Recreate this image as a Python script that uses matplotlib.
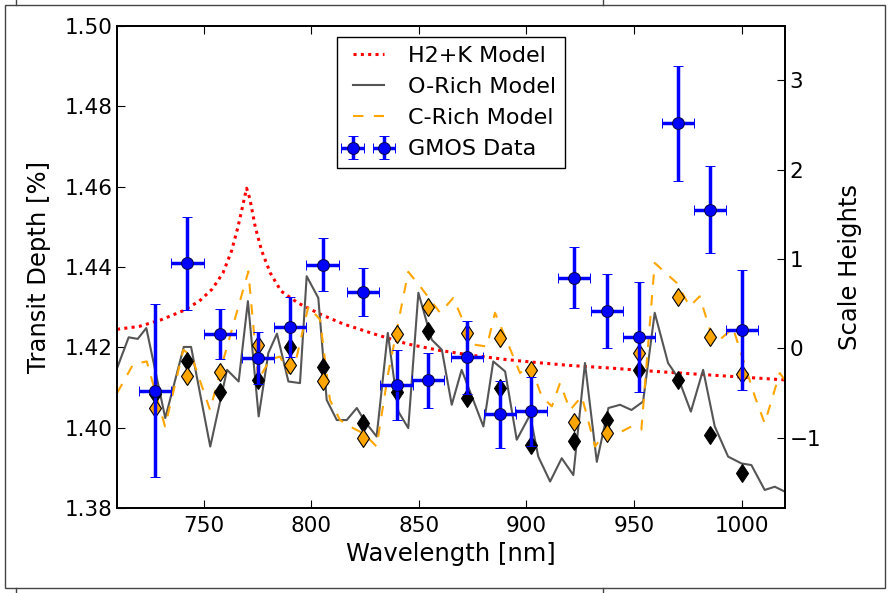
import matplotlib
matplotlib.use("Agg")
import matplotlib.pyplot as plt
from matplotlib.patches import Rectangle
from matplotlib.lines import Line2D

# binned GMOS transit depths
wl = [727.5, 742.5, 757.5, 775.3, 790.2, 805.3, 824.2, 839.7, 854.4, 872.3,
      887.7, 902.2, 922.1, 937.3, 952.3, 970.3, 985.3, 1000.0]
depth = [1.4092, 1.4409, 1.4233, 1.4173, 1.4250, 1.4406, 1.4337, 1.4107, 1.4118, 1.4175,
         1.4033, 1.4041, 1.4373, 1.4290, 1.4226, 1.4758, 1.4543, 1.4244]
depth_err = [0.0215, 0.0115, 0.0063, 0.0064, 0.0075, 0.0065, 0.0060, 0.0087, 0.0069, 0.0090,
             0.0083, 0.0086, 0.0076, 0.0092, 0.0137, 0.0143, 0.0109, 0.0149]
wl_err = [7.5] * 18

# binned models
orich_bin = [1.4085, 1.4167, 1.4090, 1.4119, 1.4201, 1.4151, 1.4011, 1.4090, 1.4240, 1.4074,
             1.4099, 1.3957, 1.3968, 1.4018, 1.4144, 1.4119, 1.3982, 1.3888]
crich_bin = [1.4049, 1.4129, 1.4138, 1.4207, 1.4155, 1.4115, 1.3974, 1.4233, 1.4300, 1.4236,
             1.4223, 1.4144, 1.4013, 1.3986, 1.4187, 1.4325, 1.4226, 1.4133]

# H2+K model
h2k_wl = [709.8, 720, 730, 740, 748, 754, 759, 763, 766, 768.5, 770, 771.5, 774, 777, 781,
          786, 794, 804, 815, 830, 845, 860, 875, 890, 905, 920, 940, 960, 980, 1000, 1020]
h2k = [1.4245, 1.4252, 1.4268, 1.4290, 1.4315, 1.4345, 1.4385, 1.4440, 1.4500, 1.4560,
       1.4596, 1.4570, 1.4500, 1.4440, 1.4385, 1.4340, 1.4310, 1.4283, 1.4258, 1.4232,
       1.4208, 1.4192, 1.4180, 1.4170, 1.4162, 1.4155, 1.4148, 1.4140, 1.4133, 1.4126, 1.4119]

# O-rich model
orich_wl = [709.8, 715.2, 719.4, 723.4, 732.2, 740.8, 744.2, 753.1, 760.9, 766.3, 770.6, 775.6,
            780.1, 784.1, 789.4, 794.8, 797.9, 803.3, 807.2, 811.9, 816.5, 821.2, 825.0, 830.4,
            835.6, 840.5, 845.1, 849.8, 856.0, 860.7, 865.3, 869.9, 880.0, 884.6, 890.1, 895.5,
            901.7, 905.5, 911.0, 916.4, 921.8, 927.2, 932.7, 938.1, 943.5, 948.8, 954.2, 959.6,
            965.8, 970.5, 976.4, 982.1, 987.5, 993.7, 999.9, 1004.5, 1010.7, 1015.4, 1020.0]
orich = [1.4148, 1.4225, 1.4221, 1.4248, 1.4024, 1.4201, 1.4201, 1.3953, 1.4144, 1.4115, 1.4315,
         1.4028, 1.4186, 1.4234, 1.4115, 1.4111, 1.4377, 1.4323, 1.4069, 1.4019, 1.4019, 1.4049,
         1.4015, 1.3978, 1.4236, 1.4040, 1.3999, 1.4336, 1.4219, 1.4194, 1.4057, 1.4144, 1.4003,
         1.4165, 1.4140, 1.3970, 1.4032, 1.3928, 1.3866, 1.3924, 1.3882, 1.4161, 1.3915, 1.4049,
         1.4057, 1.4044, 1.4065, 1.4286, 1.4161, 1.4124, 1.4040, 1.4144, 1.4003, 1.3928, 1.3911,
         1.3907, 1.3845, 1.3853, 1.3841]

# C-rich model
crich_wl = [709.8, 717.3, 723.6, 732.1, 740.6, 744.5, 753.0, 759.2, 770.8, 775.4, 780.9, 785.5,
            789.4, 793.3, 798.7, 804.1, 808.7, 813.4, 818.0, 824.5, 830.4, 835.8, 845.1, 850.6,
            859.9, 866.0, 875.3, 881.6, 885.4, 891.6, 897.0, 901.7, 907.1, 911.8, 915.6, 920.3,
            925.7, 931.9, 937.3, 942.6, 948.8, 953.4, 959.6, 969.7, 975.9, 980.5, 985.2, 989.0,
            996.0, 1006.1, 1010.7, 1017.7, 1020.0]
crich = [1.4086, 1.4158, 1.4165, 1.4003, 1.4194, 1.4177, 1.4044, 1.4169, 1.4389, 1.4119, 1.4170,
         1.4177, 1.4136, 1.4177, 1.4302, 1.4269, 1.4069, 1.4019, 1.4003, 1.3985, 1.3953, 1.4136,
         1.4388, 1.4352, 1.4286, 1.4323, 1.4207, 1.4202, 1.4286, 1.4207, 1.4136, 1.4157, 1.4078,
         1.4053, 1.4111, 1.4044, 1.4078, 1.3953, 1.3995, 1.3986, 1.4003, 1.3995, 1.4410, 1.4361,
         1.4302, 1.4327, 1.4244, 1.4215, 1.4248, 1.4078, 1.4011, 1.4136, 1.4119]

plt.rcParams['font.family'] = ['DejaVu Sans']

fig = plt.figure(figsize=(8.9, 5.93), dpi=100)
ax = fig.add_axes([0.132, 0.1433, 0.7497, 0.8129])

ax.plot(h2k_wl, h2k, color="red", linewidth=2.2, dashes=(1, 1.4), label="H2+K Model")
ax.plot(orich_wl, orich, linestyle="-", color="#555555", linewidth=1.5, label="O-Rich Model")
ax.plot(crich_wl, crich, linestyle="--", color="orange", linewidth=1.5, dashes=(5, 5),
        label="C-Rich Model")
ax.plot(wl, orich_bin, linestyle="", marker="d", markersize=9.5, color="k",
        markeredgecolor="k", markeredgewidth=0.8)
ax.plot(wl, crich_bin, linestyle="", marker="d", markersize=9.5, color="orange",
        markeredgecolor="k", markeredgewidth=0.8)
ax.errorbar(wl, depth, yerr=depth_err, xerr=wl_err, fmt="o", color="b", ecolor="b",
            markersize=8.5, markeredgecolor="#000040", markeredgewidth=0.7,
            elinewidth=2.5, capsize=3.5, capthick=1.2, label="GMOS Data", zorder=3)

ax.set_xlim(710, 1020)
ax.set_ylim(1.38, 1.50)
ax.set_xticks([750, 800, 850, 900, 950, 1000])
ax.set_yticks([1.38, 1.40, 1.42, 1.44, 1.46, 1.48, 1.50])
ax.set_xlabel("Wavelength [nm]", fontsize=17.5)
ax.set_ylabel("Transit Depth [%]", fontsize=17.5, labelpad=10)
ax.tick_params(axis='both', direction="in", length=6, labelsize=15.5, top=True, right=False)
ax.tick_params(axis='x', pad=6)

ax.legend(loc="upper center", fontsize=16, numpoints=2, frameon=True, fancybox=False,
          edgecolor='k', framealpha=1, borderaxespad=0.5)

ax2 = ax.twinx()
ax2.set_ylim(-1.79, 3.61)
ax2.set_yticks([-1, 0, 1, 2, 3])
ax2.set_ylabel("Scale Heights", fontsize=17.5, labelpad=12)
ax2.tick_params(axis='y', direction="in", length=6, labelsize=15.5)

for a in (ax, ax2):
    a.spines[['top', 'bottom', 'left', 'right']].set_linewidth(1.3)

# page frame around the figure
fig.patches.append(Rectangle((5 / 890, 5 / 593), 880 / 890, 583 / 593, transform=fig.transFigure,
                             fill=False, edgecolor="#444444", linewidth=1.0))
for xp in (16, 603):
    fig.lines.append(Line2D([xp / 890, xp / 890], [1 - 5 / 593, 1.0], transform=fig.transFigure,
                            color="#444444", linewidth=1.0))
    fig.lines.append(Line2D([xp / 890, xp / 890], [0.0, 5 / 593], transform=fig.transFigure,
                            color="#444444", linewidth=1.0))

fig.savefig("out.png", dpi=100)
